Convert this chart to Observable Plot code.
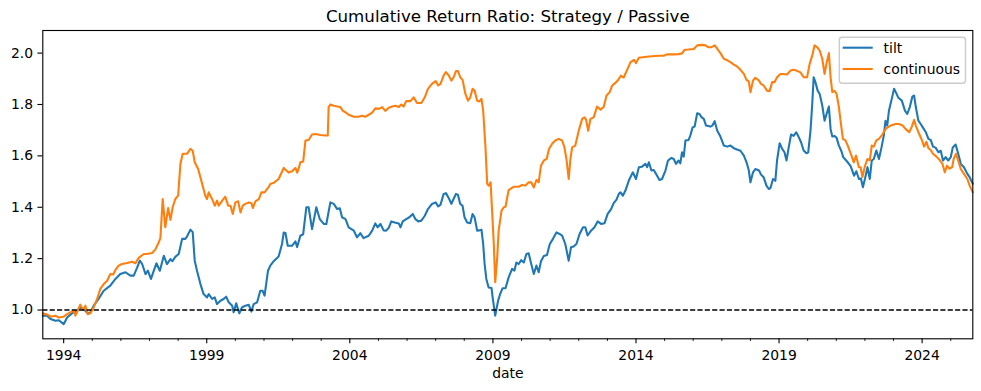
<!DOCTYPE html>
<html>
<head>
<meta charset="utf-8">
<script src="https://cdn.jsdelivr.net/npm/d3@7"></script>
<script src="https://cdn.jsdelivr.net/npm/@observablehq/plot@0.6"></script>
<style>
  html, body { margin: 0; padding: 0; background: #fff; }
  #chart { width: 981px; height: 391px; }
</style>
</head>
<body>
<div id="chart"></div>
<script>
// ---- Data (decimal years and ratio values) ----
const seriesNames = ["tilt", "continuous"];
const seriesColors = ["#1f77b4", "#ff7f0e"];
const titleText = "Cumulative Return Ratio: Strategy / Passive";
const xLabel = "date";
const majorTickYears = [1994, 1999, 2004, 2009, 2014, 2019, 2024];
const yTicks = [1.0, 1.2, 1.4, 1.6, 1.8, 2.0];
const baseline = [1.0];

const tiltYears = [
1993.27,1993.42,1993.54,1993.71,1993.83,1994.00,1994.12,1994.29,1994.47,1994.58,1994.70,1994.84,1994.93,
1995.05,1995.22,1995.40,1995.63,1995.81,1995.98,1996.16,1996.33,1996.45,1996.57,1996.66,1996.74,1996.86,1996.94,
1997.05,1997.15,1997.24,1997.36,1997.50,1997.61,1997.73,1997.80,1997.90,1998.02,1998.14,1998.25,1998.31,1998.43,1998.51,1998.58,1998.66,1998.78,1998.89,
1999.01,1999.07,1999.19,1999.28,1999.36,1999.48,1999.59,1999.68,1999.77,1999.89,1999.94,
2000.03,2000.14,2000.23,2000.35,2000.47,2000.56,2000.64,2000.76,2000.87,2000.95,
2001.02,2001.14,2001.22,2001.34,2001.51,2001.63,2001.69,2001.75,2001.83,2001.98,
2002.10,2002.16,2002.27,2002.37,2002.48,2002.56,2002.68,2002.83,2002.95,
2003.09,2003.18,2003.32,2003.44,2003.56,2003.65,2003.73,2003.85,2003.96,
2004.14,2004.25,2004.37,2004.48,2004.66,2004.78,2004.89,2004.97,
2005.07,2005.18,2005.27,2005.36,2005.45,2005.57,2005.71,2005.77,2005.85,2005.97,
2006.08,2006.20,2006.29,2006.39,2006.50,2006.62,2006.73,2006.87,
2007.00,2007.09,2007.17,2007.28,2007.36,2007.46,2007.55,2007.63,2007.71,2007.78,2007.86,2007.94,
2008.01,2008.10,2008.21,2008.29,2008.36,2008.45,2008.53,2008.60,2008.66,2008.71,2008.77,2008.85,2008.95,2008.99,
2009.08,2009.18,2009.26,2009.34,2009.44,2009.55,2009.67,2009.75,2009.82,2009.90,2009.99,
2010.08,2010.17,2010.25,2010.34,2010.43,2010.52,2010.60,2010.68,2010.78,2010.89,2010.99,
2011.10,2011.22,2011.33,2011.42,2011.53,2011.65,2011.73,2011.82,2011.92,
2012.03,2012.15,2012.23,2012.31,2012.43,2012.55,2012.66,2012.78,2012.90,
2013.01,2013.13,2013.22,2013.32,2013.40,2013.46,2013.54,2013.63,2013.75,2013.89,
2014.00,2014.10,2014.21,2014.33,2014.39,2014.45,2014.54,2014.62,2014.70,2014.82,2014.91,
2015.03,2015.12,2015.24,2015.32,2015.40,2015.49,2015.55,2015.61,2015.67,2015.73,2015.84,2015.90,2015.98,
2016.05,2016.14,2016.22,2016.29,2016.37,2016.45,2016.60,2016.67,2016.75,2016.84,2016.95,
2017.07,2017.19,2017.30,2017.42,2017.53,2017.65,2017.77,2017.86,2017.94,
2018.00,2018.09,2018.17,2018.30,2018.37,2018.46,2018.56,2018.64,2018.70,2018.79,2018.87,2018.93,
2019.02,2019.11,2019.19,2019.26,2019.34,2019.42,2019.51,2019.60,2019.68,2019.77,2019.86,2019.96,
2020.02,2020.10,2020.16,2020.21,2020.27,2020.35,2020.42,2020.51,2020.59,2020.66,2020.74,2020.80,2020.86,2020.94,
2021.01,2021.09,2021.18,2021.24,2021.32,2021.40,2021.50,2021.62,2021.70,2021.79,2021.86,2021.93,
2022.00,2022.09,2022.17,2022.24,2022.31,2022.40,2022.49,2022.58,2022.66,2022.72,2022.78,2022.84,2022.93,
2023.02,2023.08,2023.17,2023.29,2023.40,2023.48,2023.57,2023.66,2023.72,2023.78,2023.87,2023.95,
2024.03,2024.13,2024.22,2024.30,2024.38,2024.47,2024.57,2024.65,2024.73,2024.82,2024.91,
2025.00,2025.07,2025.17,2025.26,2025.35,2025.46,2025.58,2025.66,2025.77
];
const tiltValues = [
0.978,0.978,0.965,0.958,0.96,0.945,0.971,0.987,0.997,1.01,1.004,0.987,0.99,
1.017,1.043,1.075,1.095,1.121,1.14,1.147,1.134,1.134,1.166,1.192,1.18,1.14,1.153,
1.121,1.153,1.182,1.153,1.211,1.179,1.198,1.19,1.207,1.218,1.277,1.277,1.286,1.313,1.303,1.192,1.153,1.101,1.062,
1.049,1.062,1.043,1.049,1.023,1.036,1.043,1.052,1.03,1.017,0.991,
1.026,0.987,1.01,1.017,1.02,0.994,1.023,1.03,1.075,1.075,
1.056,1.153,1.173,1.19,1.208,1.257,1.302,1.30,1.25,1.25,
1.267,1.245,1.289,1.295,1.40,1.40,1.315,1.40,1.354,
1.335,1.335,1.419,1.413,1.393,1.396,1.361,1.354,1.322,
1.309,1.283,1.299,1.28,1.289,1.309,1.337,1.322,
1.335,1.31,1.309,1.32,1.345,1.341,1.337,1.322,1.345,1.354,
1.361,1.374,1.354,1.345,1.348,1.367,1.393,1.413,
1.419,1.403,1.41,1.452,1.455,1.435,1.413,1.433,1.452,1.448,1.413,1.406,
1.361,1.341,1.338,1.374,1.361,1.309,1.31,1.313,1.257,1.179,1.121,1.088,1.086,1.049,
0.978,1.036,1.065,1.085,1.085,1.127,1.16,1.153,1.185,1.179,1.194,
1.185,1.218,1.221,1.179,1.14,1.173,1.147,1.19,1.21,1.214,1.257,
1.277,1.302,1.296,1.29,1.257,1.192,1.244,1.247,1.257,
1.296,1.322,1.322,1.29,1.309,1.322,1.345,1.335,1.338,
1.374,1.393,1.416,1.43,1.452,1.458,1.445,1.465,1.504,1.536,
1.51,1.556,1.558,1.569,1.556,1.575,1.543,1.545,1.53,1.506,1.51,
1.543,1.582,1.592,1.588,1.569,1.582,1.571,1.614,1.597,1.66,1.662,1.679,1.711,
1.714,1.766,1.763,1.751,1.744,1.718,1.714,1.718,1.735,1.698,1.675,
1.64,1.636,1.64,1.63,1.625,1.62,1.601,1.576,1.545,
1.497,1.536,1.549,1.543,1.527,1.517,1.484,1.471,1.475,1.51,1.503,1.582,
1.649,1.627,1.614,1.582,1.634,1.683,1.678,1.692,1.675,1.653,1.621,1.61,
1.614,1.698,1.802,1.906,1.887,1.854,1.841,1.796,1.737,1.763,1.792,1.705,1.675,1.677,
1.67,1.64,1.618,1.595,1.585,1.575,1.56,1.523,1.54,1.51,1.512,1.478,
1.51,1.556,1.51,1.582,1.588,1.621,1.588,1.633,1.679,1.737,1.718,1.776,1.818,
1.861,1.848,1.826,1.815,1.776,1.763,1.79,1.831,1.835,1.79,1.737,1.724,
1.71,1.692,1.666,1.662,1.636,1.632,1.614,1.62,1.582,1.595,1.582,
1.595,1.633,1.644,1.608,1.569,1.556,1.53,1.517,1.491
];

const continuousYears = [
1993.27,1993.42,1993.54,1993.71,1993.83,1994.00,1994.12,1994.23,1994.35,1994.41,1994.49,1994.58,1994.68,1994.76,1994.84,1994.93,
1995.05,1995.17,1995.28,1995.40,1995.52,1995.63,1995.73,1995.81,1995.92,1996.04,1996.22,1996.39,1996.51,1996.62,1996.80,1996.91,
1997.09,1997.20,1997.32,1997.38,1997.46,1997.55,1997.65,1997.73,1997.81,1997.90,1998.00,1998.08,1998.16,1998.31,1998.43,1998.51,1998.58,1998.70,1998.84,1998.95,
1999.01,1999.07,1999.21,1999.28,1999.36,1999.42,1999.54,1999.65,1999.75,1999.83,1999.91,
2000.00,2000.10,2000.18,2000.26,2000.35,2000.47,2000.56,2000.61,2000.70,2000.82,2000.91,
2001.02,2001.16,2001.22,2001.34,2001.51,2001.69,2001.86,2001.98,
2002.10,2002.16,2002.21,2002.27,2002.37,2002.45,2002.56,2002.68,2002.80,2002.97,
2003.15,2003.23,2003.26,2003.32,2003.44,2003.56,2003.67,2003.76,2003.85,2003.96,
2004.14,2004.31,2004.43,2004.54,2004.66,2004.78,2004.89,
2005.01,2005.13,2005.24,2005.36,2005.48,2005.59,2005.71,2005.80,2005.88,2005.97,
2006.12,2006.23,2006.35,2006.50,2006.62,2006.73,2006.87,
2007.00,2007.09,2007.17,2007.28,2007.36,2007.46,2007.55,2007.63,2007.71,2007.78,2007.86,2007.94,
2008.04,2008.13,2008.21,2008.29,2008.36,2008.45,2008.53,2008.60,2008.66,2008.74,2008.80,2008.85,2008.92,2008.97,
2009.03,2009.08,2009.15,2009.20,2009.30,2009.38,2009.44,2009.55,2009.73,2009.90,
2010.02,2010.14,2010.25,2010.34,2010.43,2010.52,2010.60,2010.68,2010.78,2010.88,2010.96,
2011.07,2011.18,2011.30,2011.42,2011.50,2011.57,2011.65,2011.71,2011.77,2011.88,
2012.00,2012.12,2012.20,2012.26,2012.33,2012.41,2012.52,2012.64,2012.76,2012.87,2012.97,
2013.08,2013.17,2013.28,2013.36,2013.47,2013.57,2013.69,2013.81,2013.93,
2014.00,2014.10,2014.45,2014.80,2014.97,
2015.09,2015.32,2015.49,2015.61,2015.70,2015.84,
2016.02,2016.14,2016.31,2016.43,2016.52,2016.64,2016.75,2016.84,2016.95,
2017.07,2017.19,2017.30,2017.42,2017.53,2017.65,2017.77,2017.86,2017.94,
2018.00,2018.09,2018.17,2018.30,2018.37,2018.46,2018.58,2018.67,2018.76,2018.84,2018.93,
2019.05,2019.16,2019.28,2019.40,2019.51,2019.60,2019.75,2019.86,2019.98,
2020.07,2020.16,2020.24,2020.33,2020.42,2020.51,2020.59,2020.66,2020.74,2020.80,2020.86,2020.94,
2021.01,2021.09,2021.14,2021.23,2021.32,2021.40,2021.53,2021.61,2021.69,2021.79,2021.85,2021.91,
2022.00,2022.09,2022.17,2022.24,2022.31,2022.40,2022.49,2022.61,2022.70,2022.78,2022.90,
2023.07,2023.19,2023.32,2023.42,2023.55,2023.64,2023.72,2023.78,2023.87,2023.99,
2024.07,2024.15,2024.22,2024.30,2024.38,2024.50,2024.61,2024.71,2024.79,2024.87,2024.95,
2025.05,2025.10,2025.18,2025.26,2025.35,2025.46,2025.58,2025.66,2025.77
];
const continuousValues = [
0.987,0.983,0.974,0.978,0.971,0.974,0.984,0.991,0.997,0.978,0.997,1.021,1.0,1.017,0.984,0.987,
1.01,1.043,1.082,1.101,1.114,1.14,1.138,1.156,1.173,1.179,1.183,1.188,1.182,1.203,1.218,1.218,
1.222,1.235,1.263,1.28,1.432,1.322,1.397,1.351,1.40,1.432,1.445,1.569,1.608,1.608,1.627,1.62,1.575,1.549,1.491,1.445,
1.432,1.458,1.426,1.406,1.426,1.406,1.426,1.441,1.406,1.406,1.374,
1.419,1.423,1.38,1.406,1.413,1.419,1.416,1.397,1.423,1.432,1.458,
1.458,1.478,1.491,1.495,1.51,1.553,1.535,1.54,
1.553,1.535,1.55,1.575,1.578,1.66,1.662,1.683,1.685,1.681,
1.679,1.679,1.79,1.80,1.795,1.792,1.79,1.775,1.77,1.76,
1.752,1.752,1.756,1.752,1.76,1.768,1.785,
1.783,1.79,1.775,1.787,1.792,1.795,1.79,1.80,1.792,1.813,
1.813,1.828,1.806,1.806,1.828,1.861,1.88,
1.891,1.874,1.88,1.913,1.926,1.913,1.893,1.906,1.93,1.93,1.906,1.896,
1.841,1.815,1.828,1.861,1.854,1.815,1.812,1.822,1.776,1.633,1.491,1.484,1.497,1.387,
1.257,1.108,1.205,1.309,1.387,1.40,1.402,1.467,1.48,1.48,
1.487,1.485,1.497,1.497,1.477,1.506,1.497,1.562,1.582,1.588,1.627,
1.647,1.66,1.666,1.66,1.633,1.588,1.51,1.588,1.633,1.64,
1.698,1.744,1.75,1.74,1.698,1.744,1.75,1.792,1.78,1.79,1.835,
1.848,1.874,1.884,1.893,1.912,1.905,1.935,1.965,1.974,
1.961,1.982,1.987,1.99,1.99,
1.995,1.995,1.996,1.999,2.013,2.014,
2.016,2.03,2.032,2.03,2.023,2.023,2.03,2.017,2.0,
1.978,1.972,1.965,1.955,1.948,1.935,1.919,1.896,1.89,
1.848,1.893,1.904,1.893,1.88,1.874,1.854,1.852,1.887,1.887,1.906,
1.919,1.919,1.917,1.932,1.935,1.932,1.925,1.906,1.906,
1.958,1.99,2.03,2.023,2.01,1.978,1.919,1.961,2.0,1.906,1.848,1.853,
1.841,1.79,1.744,1.666,1.66,1.64,1.601,1.575,1.601,1.556,1.556,1.517,
1.56,1.588,1.582,1.64,1.636,1.66,1.666,1.683,1.701,1.71,1.718,
1.724,1.724,1.718,1.705,1.692,1.714,1.74,1.718,1.692,1.662,
1.636,1.655,1.63,1.623,1.608,1.597,1.584,1.569,1.536,1.562,1.55,
1.556,1.588,1.608,1.582,1.549,1.53,1.51,1.484,1.458
];

// ---- Helpers ----
function yearToDate(y) {
  const yr = Math.floor(y);
  const s = Date.UTC(yr, 0, 1), e = Date.UTC(yr + 1, 0, 1);
  return new Date(s + (y - yr) * (e - s));
}
if (tiltYears.length !== tiltValues.length || continuousYears.length !== continuousValues.length) {
  console.error("length mismatch", tiltYears.length, tiltValues.length, continuousYears.length, continuousValues.length);
}
const tiltData = tiltYears.map((y, i) => ({date: yearToDate(y), value: tiltValues[i]}));
const contData = continuousYears.map((y, i) => ({date: yearToDate(y), value: continuousValues[i]}));
const majorTicks = majorTickYears.map(y => new Date(Date.UTC(y, 0, 1)));
const minorTicks = d3.range(1994, 2026).filter(y => !majorTickYears.includes(y)).map(y => new Date(Date.UTC(y, 0, 1)));
const xDomain = [yearToDate(tiltYears[0]), yearToDate(tiltYears[tiltYears.length - 1])];

const FONT = "DejaVu Sans";
const PT = 100 / 72; // matplotlib points -> px at 100 dpi
const chart = Plot.plot({
  width: 981,
  height: 391,
  marginLeft: 42.3,
  marginRight: 8.7,
  marginTop: 30,
  marginBottom: 52.7,
  style: {fontFamily: FONT, fontSize: "13.9px", color: "#000", background: "#fff", overflow: "visible"},
  x: {type: "utc", domain: xDomain},
  y: {domain: [0.888, 2.088]},
  marks: [
    Plot.line(tiltData, {x: "date", y: "value", stroke: seriesColors[0], strokeWidth: 1.5 * PT, strokeLinejoin: "round"}),
    Plot.line(contData, {x: "date", y: "value", stroke: seriesColors[1], strokeWidth: 1.5 * PT, strokeLinejoin: "round"}),
    Plot.ruleY(baseline, {stroke: "#000", strokeWidth: 1 * PT, strokeDasharray: `${3.7 * PT},${1.6 * PT}`}),
    Plot.frame({stroke: "#000", strokeWidth: 0.8 * PT}),
    Plot.axisX({ticks: majorTicks, tickSize: 3.5 * PT, tickPadding: 6.4, strokeWidth: 0.8 * PT,
                tickFormat: d => String(d.getUTCFullYear()), label: null}),
    Plot.axisX({ticks: minorTicks, tickSize: 2 * PT, strokeWidth: 0.6 * PT, tickFormat: () => "", label: null}),
    Plot.axisY({ticks: yTicks, tickSize: 3.5 * PT, tickPadding: 3.5 * PT, strokeWidth: 0.8 * PT,
                tickFormat: d => d.toFixed(1), label: null}),
    Plot.text([titleText], {frameAnchor: "top", lineAnchor: "bottom", dy: -8.3, fontSize: 16.67, fill: "#000"}),
    Plot.text([xLabel], {frameAnchor: "bottom", lineAnchor: "bottom", dy: 38.7, fontSize: 13.9, fill: "#000"})
  ]
});

// ---- Legend (matplotlib-style box, upper right) ----
const svg = d3.select(chart);
const lg = svg.append("g").attr("font-family", FONT).attr("font-size", "13.9px").attr("text-anchor", "start");
lg.append("rect")
  .attr("x", 839.3).attr("y", 37.3).attr("width", 126.2).attr("height", 46)
  .attr("rx", 2.8).attr("ry", 2.8)
  .attr("fill", "rgba(255,255,255,0.8)").attr("stroke", "#cccccc").attr("stroke-width", 1 * PT);
seriesNames.forEach((name, i) => {
  const cy = 47.7 + i * 21.3;
  lg.append("line").attr("x1", 842.7).attr("x2", 872.7).attr("y1", cy).attr("y2", cy)
    .attr("stroke", seriesColors[i]).attr("stroke-width", 1.5 * PT);
  lg.append("text").attr("x", 883.6).attr("y", cy).attr("dy", "0.36em")
    .attr("text-anchor", "start").attr("fill", "#000").text(name);
});

document.getElementById("chart").appendChild(chart);
</script>
</body>
</html>
